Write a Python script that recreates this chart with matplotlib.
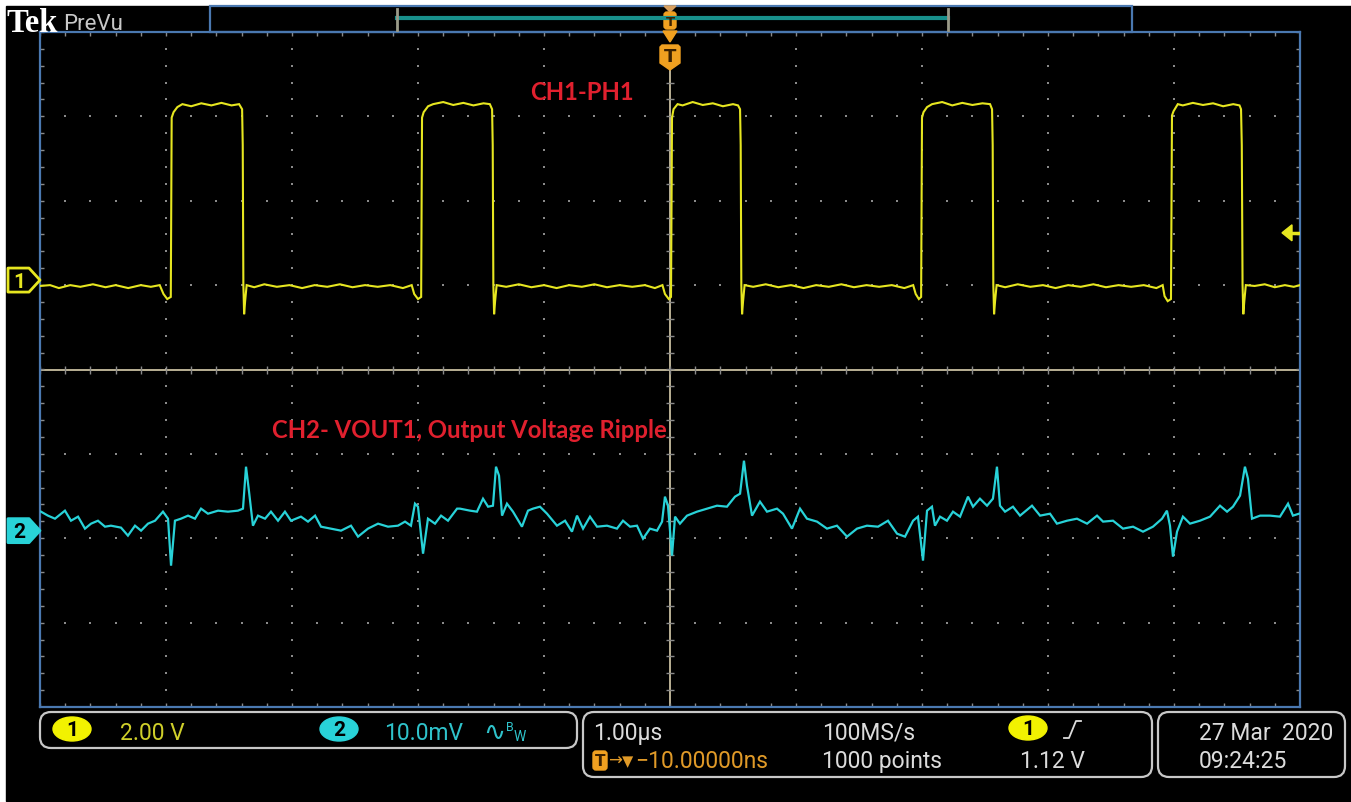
import matplotlib
matplotlib.use("Agg")
import matplotlib.pyplot as plt
from matplotlib.patches import Rectangle, FancyBboxPatch, Polygon, Ellipse
from matplotlib.collections import LineCollection
import numpy as np

# ------------------------------------------------------------------ data
TIME_PER_DIV_US = 1.0
CH1_VOLTS_PER_DIV = 2.0
CH2_MV_PER_DIV = 10.0
CH1_OFFSET_DIV = 1.06
CH2_OFFSET_DIV = -1.91
TRIG_LEVEL_V = 1.12

# CH1 (PH1 switch node), time in us, volts
ch1_t = [
    -5.00, -4.92, -4.85, -4.76, -4.68, -4.58, -4.48, -4.40, -4.30, -4.20, -4.12, -4.05,
    -4.02, -3.99, -3.962,
    -3.955, -3.94, -3.91, -3.87, -3.80, -3.72, -3.64, -3.56, -3.48, -3.42,
    -3.396, -3.391, -3.386, -3.380, -3.372, -3.36,
    -3.30, -3.22, -3.12, -3.02, -2.92, -2.82, -2.72, -2.62, -2.52, -2.42, -2.32, -2.22, -2.12, -2.05,
    -2.03, -2.00, -1.975,
    -1.968, -1.955, -1.92, -1.88, -1.80, -1.72, -1.64, -1.56, -1.48, -1.43,
    -1.412, -1.407, -1.402, -1.396, -1.388, -1.376,
    -1.30, -1.20, -1.10, -1.00, -0.90, -0.80, -0.70, -0.60, -0.50, -0.40, -0.30, -0.20, -0.12, -0.06,
    -0.04, -0.01, 0.008,
    0.016, 0.028, 0.06, 0.10, 0.18, 0.26, 0.34, 0.42, 0.50, 0.54,
    0.556, 0.561, 0.566, 0.572, 0.580, 0.592,
    0.66, 0.76, 0.86, 0.96, 1.06, 1.16, 1.26, 1.36, 1.46, 1.56, 1.66, 1.76, 1.86, 1.93,
    1.95, 1.975, 1.993,
    2.000, 2.012, 2.04, 2.08, 2.16, 2.24, 2.32, 2.40, 2.48, 2.54,
    2.556, 2.561, 2.566, 2.572, 2.580, 2.592,
    2.66, 2.76, 2.86, 2.96, 3.06, 3.16, 3.26, 3.36, 3.46, 3.56, 3.66, 3.76, 3.86, 3.91,
    3.925, 3.95, 3.976,
    3.984, 3.996, 4.03, 4.07, 4.15, 4.23, 4.31, 4.39, 4.47, 4.52,
    4.532, 4.538, 4.544, 4.550, 4.558, 4.570,
    4.64, 4.72, 4.80, 4.88, 4.95, 5.00]
ch1_v = [
    -0.14, -0.12, -0.19, -0.12, -0.16, -0.10, -0.17, -0.12, -0.19, -0.12, -0.16, -0.12,
    -0.33, -0.45, -0.40,
    3.85, 3.98, 4.10, 4.17, 4.12, 4.19, 4.14, 4.20, 4.14, 4.17,
    4.05, 3.20, -0.10, -0.81, -0.50, -0.12,
    -0.17, -0.10, -0.16, -0.12, -0.19, -0.12, -0.16, -0.10, -0.17, -0.12, -0.16, -0.12, -0.19, -0.12,
    -0.33, -0.45, -0.40,
    3.85, 3.98, 4.12, 4.17, 4.22, 4.15, 4.20, 4.14, 4.19, 4.17,
    4.05, 3.20, -0.10, -0.81, -0.50, -0.12,
    -0.16, -0.10, -0.17, -0.12, -0.19, -0.12, -0.16, -0.10, -0.17, -0.12, -0.16, -0.12, -0.19, -0.12,
    -0.33, -0.45, -0.40,
    3.85, 4.05, 4.17, 4.14, 4.22, 4.15, 4.19, 4.12, 4.17, 4.14,
    4.05, 3.20, -0.10, -0.81, -0.50, -0.12,
    -0.16, -0.10, -0.17, -0.12, -0.19, -0.12, -0.16, -0.10, -0.17, -0.12, -0.16, -0.12, -0.19, -0.12,
    -0.33, -0.45, -0.40,
    3.85, 3.98, 4.10, 4.17, 4.22, 4.14, 4.20, 4.15, 4.19, 4.17,
    4.05, 3.20, -0.10, -0.81, -0.50, -0.12,
    -0.17, -0.10, -0.16, -0.12, -0.19, -0.12, -0.16, -0.10, -0.17, -0.12, -0.16, -0.12, -0.19, -0.12,
    -0.38, -0.50, -0.45,
    3.90, 4.00, 4.17, 4.14, 4.20, 4.15, 4.19, 4.12, 4.17, 4.14,
    4.05, 3.20, -0.10, -0.81, -0.50, -0.12,
    -0.14, -0.10, -0.17, -0.12, -0.16, -0.12]

# CH2 (VOUT1 ripple), time in us, millivolts (AC)
ch2_t = [
    -4.992, -4.937, -4.881, -4.802, -4.754, -4.698, -4.643, -4.595, -4.540, -4.484,
    -4.437, -4.357, -4.302, -4.246, -4.198, -4.143, -4.087, -4.024, -3.984, -3.960,
    -3.929, -3.881, -3.825, -3.770, -3.722, -3.667, -3.587, -3.508, -3.429, -3.389,
    -3.365, -3.341, -3.310, -3.270, -3.214, -3.167, -3.111, -3.056, -3.008, -2.929,
    -2.873, -2.817, -2.770, -2.690, -2.611, -2.532, -2.476, -2.397, -2.317, -2.238,
    -2.159, -2.103, -2.056, -2.024, -2.000, -1.960, -1.921, -1.865, -1.817, -1.762,
    -1.690, -1.667, -1.587, -1.532, -1.484, -1.444, -1.405, -1.381, -1.357, -1.333,
    -1.294, -1.246, -1.175, -1.127, -1.087, -1.032, -0.976, -0.897, -0.833, -0.778,
    -0.738, -0.690, -0.635, -0.579, -0.500, -0.421, -0.373, -0.317, -0.262, -0.214,
    -0.159, -0.103, -0.063, -0.040, -0.016, 0.016, 0.040, 0.079, 0.135, 0.214,
    0.294, 0.373, 0.452, 0.516, 0.556, 0.587, 0.611, 0.651, 0.714, 0.770,
    0.849, 0.897, 0.968, 1.032, 1.087, 1.167, 1.246, 1.325, 1.405, 1.484,
    1.563, 1.651, 1.730, 1.802, 1.865, 1.929, 1.968, 2.008, 2.040, 2.079,
    2.103, 2.143, 2.198, 2.246, 2.302, 2.365, 2.405, 2.460, 2.516, 2.563,
    2.595, 2.619, 2.659, 2.722, 2.778, 2.873, 2.937, 3.016, 3.071, 3.151,
    3.230, 3.310, 3.389, 3.437, 3.516, 3.595, 3.675, 3.754, 3.833, 3.905,
    3.944, 3.968, 3.992, 4.024, 4.071, 4.127, 4.206, 4.286, 4.365, 4.421,
    4.468, 4.524, 4.563, 4.587, 4.619, 4.683, 4.762, 4.841, 4.905, 4.944, 4.992]
ch2_mv = [
    2.25, 1.78, 1.42, 2.37, 1.18, 1.66, 0.24, 0.83, 1.18, 0.47,
    0.59, 0.36, -0.59, 0.59, 0.00, 0.83, 1.18, 2.25, 1.42, -4.15,
    1.18, 1.42, 1.78, 1.42, 2.61, 2.01, 2.37, 2.25, 2.37, 2.61,
    7.58, 4.62, 0.59, 1.78, 1.42, 2.25, 1.18, 2.25, 1.18, 1.66,
    1.07, 1.78, 0.47, 0.24, 0.00, 0.59, -0.71, 0.24, 0.83, 0.47,
    0.59, 1.07, 0.59, 3.20, 2.84, -2.73, 1.42, 0.83, 1.78, 1.18,
    2.61, 2.61, 2.37, 2.25, 3.79, 2.84, 2.96, 7.58, 6.52, 1.78,
    3.20, 2.25, 0.47, 2.37, 2.61, 2.84, 2.01, 0.59, 1.18, -0.12,
    1.78, 0.24, 1.66, 0.47, 0.59, 0.24, 1.18, 0.47, 0.59, -0.95,
    0.24, 0.00, 1.07, 4.03, 2.96, -2.96, 1.66, 0.83, 1.78, 2.25,
    2.61, 2.96, 2.84, 4.03, 4.38, 8.29, 5.33, 1.78, 3.44, 2.25,
    2.61, 2.01, 0.24, 2.61, 1.42, 1.07, 0.24, 0.59, -0.71, 0.24,
    0.59, 0.47, 1.18, -0.36, -0.71, 1.18, 1.66, -3.55, 2.37, 2.84,
    0.59, 1.66, 1.18, 2.25, 1.66, 4.03, 2.84, 3.79, 2.96, 3.79,
    7.58, 2.96, 2.25, 2.84, 1.78, 2.96, 1.78, 2.01, 0.83, 1.18,
    1.42, 0.83, 1.78, 1.07, 1.18, 0.24, 0.47, -0.12, 0.47, 1.42,
    2.37, 0.59, -3.08, -0.12, 1.66, 0.83, 1.18, 1.66, 2.96, 2.25,
    2.84, 4.15, 7.58, 6.16, 1.42, 1.78, 1.78, 1.66, 3.20, 1.78, 2.01]

ch1_scale = "2.00 V"
ch2_scale = "10.0mV"
horiz_scale = "1.00\u00b5s"
trig_delay = "\u221210.00000ns"
sample_rate = "100MS/s"
record_len = "1000 points"
trig_level_label = "1.12 V"
date_label = "27 Mar  2020"
time_label = "09:24:25"

# ------------------------------------------------------------------ style
W, H = 1351, 803
YEL = "#e6e620"
YEL_TXT = "#cfcf2a"
CYAN = "#28d2d8"
CYAN_TXT = "#2fc3cb"
ORANGE = "#f0a020"
ORANGE_TXT = "#e09a28"
BLUE = "#4a78b0"
TAN = "#c8bea0"
DOT = "#8a8a8a"
WHITE_TXT = "#dcdcdc"
RED = "#e0202e"
SCOPE_FONT = ["Roboto", "DejaVu Sans"]

fig = plt.figure(figsize=(W / 100, H / 100), dpi=100)
fig.patch.set_facecolor("white")

bg = fig.add_axes([0, 0, 1, 1])
bg.set_xlim(0, W); bg.set_ylim(H, 0); bg.axis("off"); bg.set_zorder(0)
bg.add_patch(Rectangle((6, 7), W - 6, 795, color="black"))

# graticule area (pixels)
gx0, gx1, gy0, gy1 = 40, 1300, 33, 708
ax = fig.add_axes([gx0 / W, 1 - gy1 / H, (gx1 - gx0) / W, (gy1 - gy0) / H])
ax.set_zorder(1)
ax.set_facecolor("none")
ax.set_xlim(-5, 5); ax.set_ylim(-4, 4)
ax.set_xticks([]); ax.set_yticks([])
for s in ax.spines.values():
    s.set_color(BLUE); s.set_linewidth(1.6)

px_x = 10 / (gx1 - gx0)   # divisions per pixel (x)
px_y = 8 / (gy1 - gy0)    # divisions per pixel (y)

minor_x = np.arange(-5, 5.0001, 0.2)
minor_y = np.arange(-4, 4.0001, 0.2)
dx, dy = [], []
for xm in range(-4, 5):
    if xm == 0:
        continue
    dx += [xm] * len(minor_y); dy += list(minor_y)
for ym in range(-3, 4):
    if ym == 0:
        continue
    dx += list(minor_x); dy += [ym] * len(minor_x)
ax.scatter(dx, dy, s=1.8, c=DOT, marker="s", linewidths=0, zorder=1)

# center cross with ticks
ax.plot([-5, 5], [0, 0], color=TAN, lw=1.3, zorder=1)
ax.plot([0, 0], [-4, 4 - 37 * px_y], color=TAN, lw=1.3, zorder=1)
segs = []
for x in minor_x:
    segs.append([(x, -4 * px_y), (x, 4 * px_y)])
    segs.append([(x, 4), (x, 4 - 4 * px_y)])
    segs.append([(x, -4), (x, -4 + 4 * px_y)])
for y in minor_y:
    if abs(y) < 4:
        segs.append([(-4 * px_x, y), (4 * px_x, y)])
    segs.append([(-5, y), (-5 + 4 * px_x, y)])
    segs.append([(5, y), (5 - 4 * px_x, y)])
ax.add_collection(LineCollection(segs, colors=DOT, linewidths=1.0, zorder=1))

# traces
ax.plot(ch1_t, np.array(ch1_v) / CH1_VOLTS_PER_DIV + CH1_OFFSET_DIV,
        color=YEL, lw=1.5, zorder=3, solid_joinstyle="miter")
ax.plot(ch2_t, np.array(ch2_mv) / CH2_MV_PER_DIV + CH2_OFFSET_DIV,
        color=CYAN, lw=1.6, zorder=3, solid_joinstyle="miter")

# trigger level arrow (right edge)
ty = TRIG_LEVEL_V / CH1_VOLTS_PER_DIV + CH1_OFFSET_DIV
ax.add_patch(Polygon([(5 - 18 * px_x, ty), (5 - 8 * px_x, ty + 8 * px_y),
                      (5 - 8 * px_x, ty - 8 * px_y)], closed=True,
                     color=YEL, zorder=4, clip_on=False))
ax.plot([5 - 9 * px_x, 5], [ty, ty], color=YEL, lw=2.5, zorder=4)

# ------------------------------------------------------------------ overlay
fg = fig.add_axes([0, 0, 1, 1])
fg.set_xlim(0, W); fg.set_ylim(H, 0); fg.axis("off"); fg.set_zorder(3)
fg.patch.set_alpha(0)

cy = (gy0 + gy1) / 2
ppd = (gy1 - gy0) / 8

# header
fg.text(6, 32, "Tek", family="Liberation Serif", weight="bold", fontsize=23.5,
        color="white", va="baseline", ha="left")
fg.text(63, 30, "PreVu", family=SCOPE_FONT, fontsize=16, color="#c8c8c8",
        va="baseline", ha="left")
fg.add_patch(Rectangle((210, 7), 922, 26, fill=False, edgecolor=BLUE, lw=1.6))
fg.plot([397, 948], [19, 19], color="#18908c", lw=3)
for bx in (397, 948):
    fg.plot([bx, bx], [10, 31], color="#9a9a88", lw=2)

# trigger position markers
fg.add_patch(Polygon([(664, 7), (676, 7), (670, 13)], closed=True, color="#d8a060"))
fg.add_patch(FancyBboxPatch((664, 13), 12, 17, boxstyle="round,pad=0,rounding_size=3",
                            color=ORANGE))
fg.text(670, 22, "T", fontsize=9.5, weight="bold", color="#3a2000", ha="center",
        va="center", family="DejaVu Sans")
fg.add_patch(Polygon([(663, 32), (677, 32), (670, 43)], closed=True, color=ORANGE))
fg.add_patch(Polygon([(662, 46), (678, 46), (680, 48), (680, 64), (670, 71), (660, 64),
                      (660, 48)], closed=True, color=ORANGE))
fg.text(670, 57, "T", fontsize=13, weight="bold", color="#3a2000", ha="center",
        va="center", family="DejaVu Sans")

# channel ground markers
for off, num, filled, col in ((CH1_OFFSET_DIV, "1", False, YEL),
                              (CH2_OFFSET_DIV, "2", True, CYAN)):
    my = cy - off * ppd
    pts = [(8, my - 12), (29, my - 12), (40, my), (29, my + 12), (8, my + 12)]
    fg.add_patch(Polygon(pts, closed=True, facecolor=col if filled else "black",
                         edgecolor=col, lw=2, joinstyle="round"))
    fg.text(19, my + 1, num, fontsize=15, weight="bold", family=SCOPE_FONT,
            color="black" if filled else col, ha="center", va="center")

# annotations
fg.text(530, 100, "CH1-PH1", family="Lato", weight="bold", fontsize=17.2,
        color=RED, ha="left", va="baseline")
fg.text(272, 438, "CH2- VOUT1, Output Voltage Ripple", family="Lato", weight="bold",
        fontsize=17.2, color=RED, ha="left", va="baseline")

# status boxes
for (x0, y0, x1, y1) in ((40, 713, 577, 749), (583, 713, 1152, 778), (1158, 713, 1345, 778)):
    fg.add_patch(FancyBboxPatch((x0, y0), x1 - x0, y1 - y0,
                                boxstyle="round,pad=0,rounding_size=11",
                                facecolor="black", edgecolor="#c8c8c8", lw=1.6))

def badge(x, y, num, col):
    fg.add_patch(Ellipse((x, y), 38, 24, color=col))
    fg.text(x, y + 1, num, fontsize=15, weight="bold", family=SCOPE_FONT,
            color="black", ha="center", va="center")

FS = 16.5
badge(72, 730, "1", "#f2f200")
fg.text(120, 740, ch1_scale, family=SCOPE_FONT, fontsize=FS, color=YEL_TXT, va="baseline")
badge(339, 730, "2", CYAN)
fg.text(384, 740, ch2_scale, family=SCOPE_FONT, fontsize=FS, color=CYAN_TXT, va="baseline")
fg.text(483, 740, "\u223f", family=["DejaVu Sans"], fontsize=19, color=CYAN_TXT, va="baseline")
fg.text(506, 731, "B", family=SCOPE_FONT, fontsize=9, color=CYAN_TXT, va="baseline")
fg.text(514, 741, "W", family=SCOPE_FONT, fontsize=10, color=CYAN_TXT, va="baseline")

fg.text(593, 740, horiz_scale, family=SCOPE_FONT, fontsize=FS, color=WHITE_TXT, va="baseline")
fg.add_patch(FancyBboxPatch((593, 752), 14, 19, boxstyle="round,pad=0,rounding_size=3",
                            color=ORANGE))
fg.text(600, 762, "T", fontsize=11, weight="bold", color="#3a2000", ha="center",
        va="center", family="DejaVu Sans")
fg.text(608, 766, "\u2192", family=["DejaVu Sans"], fontsize=12, color=ORANGE_TXT,
        va="baseline")
fg.text(622, 766, "\u25bc", family=["DejaVu Sans"], fontsize=10.5, color=ORANGE_TXT,
        va="baseline")
fg.text(635, 768, trig_delay, family=SCOPE_FONT, fontsize=FS, color=ORANGE_TXT,
        va="baseline")
fg.text(822, 740, sample_rate, family=SCOPE_FONT, fontsize=FS, color=WHITE_TXT, va="baseline")
fg.text(822, 768, record_len, family=SCOPE_FONT, fontsize=FS, color=WHITE_TXT, va="baseline")
badge(1028, 729, "1", "#f2f200")
fg.plot([1064, 1069, 1076, 1081], [739, 739, 722, 722], color=WHITE_TXT, lw=1.3)
fg.text(1020, 768, trig_level_label, family=SCOPE_FONT, fontsize=FS, color=WHITE_TXT,
        va="baseline")
fg.text(1199, 740, date_label, family=SCOPE_FONT, fontsize=FS, color=WHITE_TXT, va="baseline")
fg.text(1199, 768, time_label, family=SCOPE_FONT, fontsize=FS, color=WHITE_TXT, va="baseline")

fig.savefig("out.png", dpi=100, facecolor="white")
